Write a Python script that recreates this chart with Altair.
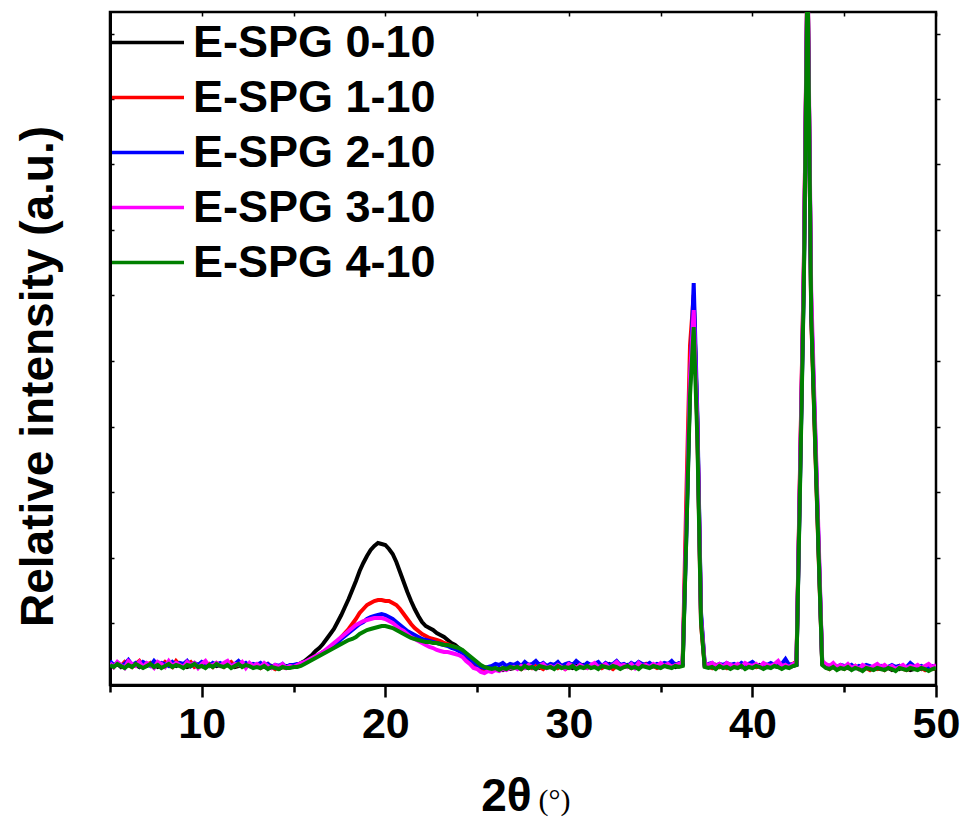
import altair as alt
import pandas as pd

# 2-theta sampling grid (degrees)
two_theta = [
    5.0, 5.2, 5.4, 5.6, 5.8, 6.0, 6.2, 6.4, 6.6, 6.8,
    7.0, 7.2, 7.4, 7.6, 7.8, 8.0, 8.2, 8.4, 8.6, 8.8,
    9.0, 9.2, 9.4, 9.6, 9.8, 10.0, 10.2, 10.4, 10.6, 10.8,
    11.0, 11.2, 11.4, 11.6, 11.8, 12.0, 12.2, 12.4, 12.6, 12.8,
    13.0, 13.2, 13.4, 13.6, 13.8, 14.0, 14.2, 14.4, 14.6, 14.8,
    15.0, 15.2, 15.4, 15.6, 15.8, 16.0, 16.2, 16.4, 16.6, 16.8,
    17.0, 17.2, 17.4, 17.6, 17.8, 18.0, 18.2, 18.4, 18.6, 18.8,
    19.0, 19.2, 19.4, 19.6, 19.8, 20.0, 20.2, 20.4, 20.6, 20.8,
    21.0, 21.2, 21.4, 21.6, 21.8, 22.0, 22.2, 22.4, 22.6, 22.8,
    23.0, 23.2, 23.4, 23.6, 23.8, 24.0, 24.2, 24.4, 24.6, 24.8,
    25.0, 25.2, 25.4, 25.6, 25.8, 26.0, 26.2, 26.4, 26.6, 26.8,
    27.0, 27.2, 27.4, 27.6, 27.8, 28.0, 28.2, 28.4, 28.6, 28.8,
    29.0, 29.2, 29.4, 29.6, 29.8, 30.0, 30.2, 30.4, 30.6, 30.8,
    31.0, 31.2, 31.4, 31.6, 31.8, 32.0, 32.2, 32.4, 32.6, 32.8,
    33.0, 33.2, 33.4, 33.6, 33.8, 34.0, 34.2, 34.4, 34.6, 34.8,
    35.0, 35.2, 35.4, 35.6, 35.8, 36.0, 36.2, 36.4, 36.6, 36.8,
    37.0, 37.2, 37.4, 37.6, 37.8, 38.0, 38.2, 38.4, 38.6, 38.8,
    39.0, 39.2, 39.4, 39.6, 39.8, 40.0, 40.2, 40.4, 40.6, 40.8,
    41.0, 41.2, 41.4, 41.6, 41.8, 42.0, 42.2, 42.4, 42.6, 42.8,
    43.0, 43.2, 43.4, 43.6, 43.8, 44.0, 44.2, 44.4, 44.6, 44.8,
    45.0, 45.2, 45.4, 45.6, 45.8, 46.0, 46.2, 46.4, 46.6, 46.8,
    47.0, 47.2, 47.4, 47.6, 47.8, 48.0, 48.2, 48.4, 48.6, 48.8,
    49.0, 49.2, 49.4, 49.6, 49.8, 50.0,
]

espg_0_10 = [
    20, 19, 21, 18, 20, 22, 19, 20, 18, 21,
    19, 21, 20, 18, 20, 19, 22, 20, 19, 21,
    20, 18, 19, 21, 20, 19, 18, 20, 21, 19,
    20, 19, 21, 20, 18, 19, 20, 21, 19, 18,
    19, 20, 18, 17, 19, 18, 16, 18, 19, 18,
    19, 20, 22, 24, 27, 30, 34, 37, 41, 46,
    51, 56, 63, 70, 78, 86, 95, 104, 114, 122,
    129, 135, 139, 142, 141, 140, 136, 131, 123, 113,
    103, 93, 84, 76, 69, 63, 59, 57, 55, 52,
    50, 48, 45, 42, 40, 37, 34, 30, 26, 22,
    18, 15, 14, 14, 15, 15, 16, 15, 17, 16,
    17, 18, 16, 18, 17, 19, 18, 17, 18, 19,
    18, 17, 19, 18, 20, 18, 17, 19, 18, 20,
    19, 18, 20, 19, 18, 19, 21, 19, 18, 20,
    19, 20, 18, 19, 21, 19, 20, 18, 19, 20,
    19, 21, 19, 20, 18, 19,
    20, 160, 300, 385, 262, 68, 19,
    18, 19, 20, 18, 19, 20, 18,
    19, 20, 18, 19, 21, 19, 18, 20, 19, 18,
    20, 19, 18, 20, 19, 18, 19,
    20, 215, 410, 720, 376, 257, 138, 22,
    18, 17, 18, 16, 17,
    18, 17, 16, 18, 17, 15, 17, 18, 16, 17,
    16, 18, 17, 15, 17, 16, 18, 17, 15, 16,
    17, 16, 18, 15, 17, 16,
]

espg_1_10 = [
    21, 18, 22, 19, 23, 20, 18, 21, 24, 19,
    20, 22, 18, 21, 19, 23, 20, 18, 24, 20,
    19, 21, 23, 18, 20, 22, 19, 21, 18, 22,
    20, 18, 21, 23, 19, 20, 22, 18, 21, 19,
    20, 17, 19, 21, 18, 16, 19, 18, 17, 19,
    19, 20, 21, 22, 24, 26, 28, 30, 33, 35,
    38, 41, 44, 48, 52, 56, 61, 66, 72, 76,
    80, 82, 84, 85, 85, 84, 84, 82, 80, 76,
    71, 66, 61, 57, 54, 51, 49, 47, 46, 45,
    44, 42, 41, 39, 38, 36, 33, 29, 25, 21,
    17, 15, 14, 15, 14, 16, 15, 17, 16, 18,
    17, 19, 16, 18, 20, 17, 19, 18, 16, 19,
    18, 20, 17, 19, 16, 18, 20, 17, 19, 18,
    17, 19, 18, 20, 17, 19, 18, 16, 19, 20,
    18, 19, 17, 20, 18, 19, 21, 18, 19, 17,
    19, 20, 18, 19, 21, 20,
    24, 190, 340, 390, 255, 60, 19,
    19, 17, 20, 18, 19, 17, 20,
    18, 20, 19, 17, 19, 20, 18, 19, 17, 19,
    18, 20, 19, 17, 19, 20, 21,
    24, 225, 420, 720, 370, 250, 132, 21,
    18, 16, 19, 17, 18,
    16, 18, 17, 19, 16, 18, 17, 15, 18, 16,
    17, 15, 18, 16, 17, 19, 16, 15, 17, 18,
    16, 17, 15, 18, 16, 17,
]

espg_2_10 = [
    24, 20, 22, 19, 21, 25, 20, 22, 19, 23,
    21, 19, 24, 20, 22, 21, 19, 23, 20, 22,
    21, 24, 19, 22, 20, 23, 21, 19, 22, 20,
    22, 20, 23, 19, 21, 24, 20, 22, 19, 21,
    20, 22, 19, 21, 18, 20, 19, 21, 18, 20,
    20, 21, 21, 23, 24, 26, 28, 30, 32, 34,
    37, 40, 42, 46, 49, 52, 55, 58, 61, 63,
    66, 68, 69, 70, 71, 70, 68, 66, 63, 60,
    57, 54, 52, 50, 48, 46, 45, 44, 43, 42,
    41, 40, 39, 37, 36, 34, 32, 29, 26, 23,
    20, 18, 17, 18, 19, 21, 20, 22, 19, 21,
    20, 22, 19, 23, 20, 21, 24, 20, 22, 19,
    21, 20, 23, 19, 21, 22, 20, 24, 21, 19,
    22, 20, 21, 23, 19, 22, 20, 21, 24, 20,
    21, 19, 22, 20, 23, 21, 20, 22, 19, 21,
    20, 22, 21, 24, 20, 22,
    22, 150, 300, 402, 270, 72, 20,
    21, 22, 19, 21, 20, 22, 20,
    21, 19, 22, 20, 21, 23, 20, 19, 21, 20,
    22, 20, 19, 21, 26, 20, 21,
    21, 210, 405, 715, 380, 262, 142, 22,
    20, 19, 21, 18, 20,
    19, 18, 20, 17, 19, 18, 20, 19, 17, 18,
    19, 17, 18, 20, 18, 19, 17, 18, 22, 19,
    18, 19, 17, 18, 19, 18,
]

espg_3_10 = [
    22, 18, 23, 20, 17, 24, 21, 19, 23, 18,
    22, 20, 17, 23, 21, 18, 24, 19, 22, 20,
    18, 23, 20, 22, 17, 21, 24, 19, 20, 22,
    19, 22, 24, 18, 21, 20, 23, 17, 22, 19,
    21, 18, 22, 19, 17, 20, 18, 21, 17, 19,
    18, 20, 22, 23, 25, 27, 29, 31, 33, 36,
    39, 42, 45, 48, 51, 54, 57, 60, 62, 64,
    65, 66, 67, 67, 67, 66, 64, 62, 59, 56,
    54, 51, 48, 46, 44, 42, 40, 38, 37, 35,
    34, 33, 33, 32, 31, 30, 28, 24, 21, 17,
    16, 13, 12, 14, 13, 15, 14, 16, 15, 17,
    18, 16, 19, 17, 20, 18, 16, 19, 21, 17,
    19, 17, 20, 18, 16, 21, 19, 17, 20, 18,
    17, 20, 22, 18, 19, 21, 17, 20, 23, 19,
    20, 18, 21, 17, 22, 19, 20, 18, 21, 19,
    22, 19, 21, 18, 20, 21,
    23, 165, 310, 375, 258, 66, 22,
    20, 22, 19, 21, 18, 22, 20,
    19, 21, 18, 22, 20, 19, 21, 18, 22, 20,
    19, 21, 24, 19, 20, 18, 21,
    22, 220, 420, 730, 395, 270, 150, 24,
    21, 19, 22, 18, 20,
    18, 21, 17, 19, 16, 20, 18, 17, 19, 21,
    18, 20, 17, 19, 16, 18, 20, 17, 19, 18,
    20, 17, 19, 21, 18, 20,
]

espg_4_10 = [
    20, 18, 21, 19, 17, 20, 18, 21, 19, 17,
    19, 21, 18, 20, 17, 19, 21, 18, 20, 19,
    17, 20, 19, 21, 18, 19, 17, 20, 18, 21,
    19, 18, 20, 17, 19, 21, 18, 20, 19, 17,
    18, 17, 19, 16, 18, 17, 16, 18, 17, 17,
    18, 18, 19, 21, 23, 25, 27, 29, 31, 33,
    35, 37, 39, 41, 43, 45, 46, 48, 51, 53,
    55, 56, 57, 58, 59, 59, 58, 57, 55, 53,
    51, 49, 47, 46, 45, 44, 43, 43, 42, 42,
    41, 40, 40, 39, 38, 37, 35, 32, 29, 26,
    23, 20, 18, 17, 16, 17, 15, 17, 16, 18,
    17, 18, 16, 19, 17, 18, 16, 19, 18, 17,
    18, 16, 19, 17, 18, 17, 19, 16, 18, 17,
    19, 17, 18, 16, 19, 18, 17, 19, 18, 16,
    18, 19, 17, 18, 16, 19, 18, 17, 19, 18,
    17, 19, 18, 17, 19, 18,
    19, 150, 290, 358, 245, 62, 18,
    17, 18, 16, 19, 17, 18, 16,
    18, 17, 19, 16, 18, 17, 19, 18, 16, 18,
    17, 19, 18, 16, 18, 17, 19,
    20, 205, 400, 715, 372, 252, 135, 20,
    17, 16, 18, 15, 17,
    16, 18, 15, 17, 16, 14, 17, 16, 15, 17,
    16, 15, 17, 16, 14, 17, 16, 15, 17, 16,
    15, 17, 16, 14, 16, 17,
]

series_names = ["E-SPG 0-10", "E-SPG 1-10", "E-SPG 2-10", "E-SPG 3-10", "E-SPG 4-10"]
series_colors = ["#000000", "#ff0000", "#0000ff", "#ff00ff", "#008000"]
series_values = [espg_0_10, espg_1_10, espg_2_10, espg_3_10, espg_4_10]

x_major_ticks = [10, 20, 30, 40, 50]
x_minor_ticks = [5, 15, 25, 35, 45]
x_top_ticks = [5, 10, 15, 20, 25, 30, 35, 40, 45, 50]
y_ticks = [62, 127.5, 193, 258.5, 324, 389.5, 455, 520.5, 586, 651.5]

for name, vals in zip(series_names, series_values):
    if len(vals) != len(two_theta):
        raise ValueError(f"{name}: {len(vals)} values vs {len(two_theta)}")

rows = []
for order, (name, vals) in enumerate(zip(series_names, series_values)):
    for x, y in zip(two_theta, vals):
        rows.append({"two_theta": x, "intensity": y, "sample": name, "order": order})
df = pd.DataFrame(rows)

SANS = "Liberation Sans, Arial, Helvetica, sans-serif"
SERIF = "Liberation Serif, Times New Roman, serif"
W, H = 826, 673

xscale = alt.Scale(domain=[5, 50], nice=False, zero=False)
yscale = alt.Scale(domain=[0, 673], nice=False, zero=False)

base = alt.Chart(df)

lines = base.mark_line(strokeWidth=4, clip=True).encode(
    x=alt.X("two_theta:Q", scale=xscale, axis=alt.Axis(
        orient="bottom", values=x_major_ticks, format="d", grid=False,
        domain=True, domainColor="#000", domainWidth=3,
        ticks=True, tickSize=12, tickWidth=2.5, tickColor="#000",
        labels=True, labelFont=SANS, labelFontSize=43, labelFontWeight="bold",
        labelColor="#000", labelPadding=6, labelFlush=False, labelOverlap=False,
        title="2θ", titleFont=SANS, titleFontSize=46, titleFontWeight="bold",
        titleColor="#000", titleX=396, titleY=125, titleAlign="center",
        titleBaseline="alphabetic",
    )),
    y=alt.Y("intensity:Q", scale=yscale, axis=alt.Axis(
        orient="left", grid=False, ticks=False, labels=False,
        domain=True, domainColor="#000", domainWidth=3,
        title="Relative intensity (a.u.)", titleFont=SANS, titleFontSize=46,
        titleFontWeight="bold", titleColor="#000", titleAngle=-90,
        titleX=-72, titleY=364, titleAlign="center", titleBaseline="middle",
    )),
    color=alt.Color("sample:N", scale=alt.Scale(domain=series_names, range=series_colors),
                    legend=alt.Legend(
                        orient="none", legendX=0, legendY=3, title=None,
                        symbolType="stroke", symbolSize=5184, symbolStrokeWidth=3.5,
                        labelFont=SANS, labelFontSize=45, labelFontWeight="bold",
                        labelColor="#000", labelOffset=7, labelLimit=600,
                        clipHeight=55, rowPadding=0, padding=0,
                    )),
    order=alt.Order("order:Q"),
)

minor_layer = base.mark_line(opacity=0).encode(
    x=alt.X("two_theta:Q", scale=xscale, axis=alt.Axis(
        orient="bottom", values=x_minor_ticks, grid=False, domain=False,
        ticks=True, tickSize=7, tickWidth=2.5, tickColor="#000", labels=False,
        title="(°)", titleFont=SERIF, titleFontSize=30, titleFontWeight="normal",
        titleColor="#000", titleX=428, titleY=124, titleAlign="left",
        titleBaseline="alphabetic",
    )),
    y=alt.Y("intensity:Q", scale=yscale, axis=alt.Axis(
        orient="right", offset=-W, values=y_ticks, grid=False, domain=False,
        ticks=True, tickSize=4, tickWidth=1.5, tickColor="#000", labels=False,
        title=None,
    )),
    detail="sample:N",
)

frame_layer = base.mark_line(opacity=0).encode(
    x=alt.X("two_theta:Q", scale=xscale, axis=alt.Axis(
        orient="bottom", offset=-H, values=x_top_ticks, grid=False, domain=False,
        ticks=True, tickSize=4, tickWidth=1.5, tickColor="#000", labels=False,
        title=None,
    )),
    y=alt.Y("intensity:Q", scale=yscale, axis=alt.Axis(
        orient="right", values=y_ticks, grid=False, domain=False,
        ticks=True, tickSize=4, tickWidth=1.5, tickColor="#000", labels=False,
        title=None,
    )),
    detail="sample:N",
)

chart = alt.layer(lines, minor_layer, frame_layer).resolve_axis(
    x="independent", y="independent"
).properties(
    width=W, height=H,
    autosize=alt.AutoSizeParams(type="none"),
    padding={"left": 110, "top": 12, "right": 30, "bottom": 138},
    background="#ffffff",
).configure_view(
    stroke="#000", strokeWidth=2.5
)

chart.save("out.html", embed_options={"renderer": "svg", "actions": False})
